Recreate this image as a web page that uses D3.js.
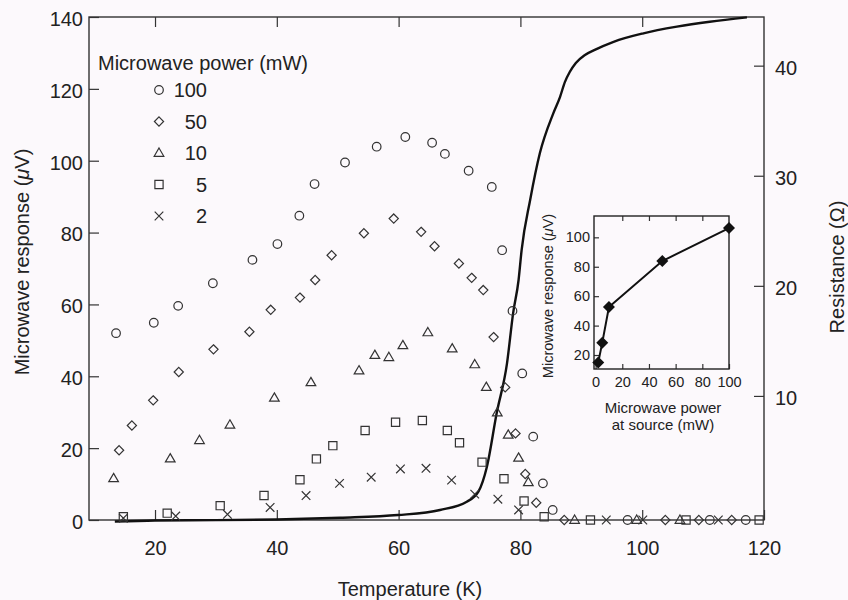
<!DOCTYPE html>
<html><head><meta charset="utf-8">
<script src="https://cdn.jsdelivr.net/npm/d3@7"></script>
<style>
body{margin:0;background:#fcf9fc}
svg{display:block}
text{font-family:"Liberation Sans",Arial,Helvetica,sans-serif;fill:#222}
</style>
</head><body><svg id="c" width="848" height="600"></svg>
<script>
// ---- Data ----
const powerLevels = ["100", "50", "10", "5", "2"];
const symbolKinds = ["circle", "diamond", "triangle", "square", "cross"];

const tempP100 = [13.6, 19.8, 23.8, 29.5, 36.0, 40.1, 43.7, 46.2, 51.2, 56.4, 61.1, 65.5, 67.6, 71.5, 75.3, 77.0, 78.7, 80.3, 82.1, 83.7, 85.3, 97.6, 111.1, 117.0];
const respP100 = [52.0, 54.9, 59.6, 65.9, 72.4, 76.8, 84.7, 93.5, 99.5, 103.9, 106.6, 105.0, 101.9, 97.2, 92.7, 75.1, 58.2, 40.8, 23.2, 10.2, 2.8, 0, 0, 0];

const tempP50 = [14.1, 16.2, 19.7, 23.9, 29.6, 35.5, 39.0, 43.8, 46.3, 49.0, 54.3, 59.2, 63.7, 65.9, 69.9, 72.0, 73.9, 75.6, 77.5, 79.2, 80.8, 82.6, 87.2, 103.8, 109.3, 114.7];
const respP50 = [19.4, 26.3, 33.3, 41.2, 47.5, 52.4, 58.5, 61.9, 66.8, 73.7, 79.8, 83.9, 80.2, 76.2, 71.4, 67.4, 64.0, 50.9, 36.9, 24.1, 12.8, 4.8, 0, 0, 0, 0];

const tempP10 = [13.2, 22.5, 27.3, 32.3, 39.6, 45.6, 53.5, 56.1, 58.4, 60.7, 64.8, 68.8, 72.5, 74.4, 76.2, 78.0, 79.7, 81.3, 88.9, 99.1, 106.2];
const respP10 = [11.6, 17.1, 22.2, 26.5, 34.0, 38.3, 41.6, 45.9, 45.3, 48.6, 52.2, 47.7, 43.3, 37.0, 29.9, 23.7, 17.3, 10.5, 0, 0, 0];

const tempP5 = [14.8, 22.0, 30.7, 37.9, 43.8, 46.5, 49.2, 54.5, 59.5, 63.9, 68.0, 70.0, 73.7, 77.3, 80.6, 83.9, 91.5, 107.2, 119.2];
const respP5 = [0.9, 1.9, 4.0, 6.8, 11.2, 17.0, 20.7, 24.9, 27.2, 27.7, 24.9, 21.5, 16.1, 11.5, 5.3, 0.9, 0, 0, 0];

const tempP2 = [14.8, 23.4, 31.9, 38.9, 44.8, 50.3, 55.5, 60.3, 64.5, 68.7, 72.5, 76.3, 79.7, 94.1, 100.1, 112.5];
const respP2 = [0.5, 1.1, 1.6, 3.5, 6.8, 10.2, 11.9, 14.2, 14.4, 11.1, 7.2, 5.8, 2.8, 0, 0, 0];

const resTemp = [13.4, 20, 30, 40, 50.4, 59.9, 66.8, 71.2, 73.1, 74.5, 76.1, 77.8, 78.8, 79.7, 80.2, 81.6, 83.2, 85.4, 86.5, 87.3, 88.1, 89.1, 90.6, 92.3, 95.3, 100.2, 105.7, 111.1, 117.2];
const resOhm = [-1.41, -1.32, -1.28, -1.22, -1.06, -0.82, -0.36, 0.39, 1.30, 3.57, 8.42, 12.96, 17.50, 20.53, 23.25, 27.80, 32.06, 35.67, 37.15, 38.5, 39.42, 40.24, 40.97, 41.46, 42.17, 42.94, 43.54, 43.99, 44.39];

const insetPower = [2, 5, 10, 50, 100];
const insetResp = [15.0, 28.4, 52.6, 83.9, 106.3];

const xTicks = [20, 40, 60, 80, 100, 120];
const yTicks = [0, 20, 40, 60, 80, 100, 120, 140];
const rTicks = [10, 20, 30, 40];
const insetXTicks = [0, 20, 40, 60, 80, 100];
const insetYTicks = [20, 40, 60, 80, 100];

// ---- Setup ----
const svg = d3.select("#c");
svg.append("rect").attr("width", 848).attr("height", 600).attr("fill", "#fcf9fc");

const L = 89, R = 764, T = 17, B = 520;
const x = d3.scaleLinear().domain([9.16, 120]).range([L, R]);
const y = d3.scaleLinear().domain([0, 140]).range([B, T]);
const yR = d3.scaleLinear().domain([-1.27, 44.42]).range([B, T]);

const axisColor = "#333";
function styleAxis(g, fs) {
  g.select(".domain").remove();
  g.selectAll(".tick line").attr("stroke", axisColor).attr("stroke-width", 1.2);
  g.selectAll(".tick text").attr("fill", "#222").style("font-size", fs + "px")
    .style("font-family", '"Liberation Sans",Arial,sans-serif');
}

// main axes
svg.append("g").attr("transform", `translate(0,${B})`)
  .call(d3.axisBottom(x).tickValues(xTicks).tickSize(-10).tickPadding(21).tickFormat(d3.format("d")))
  .call(g => styleAxis(g, 20));
svg.append("g").attr("transform", `translate(0,${T})`)
  .call(d3.axisTop(x).tickValues([20, 40, 60, 80, 100]).tickSize(-10).tickFormat(""))
  .call(g => styleAxis(g, 20));
svg.append("g").attr("transform", `translate(${L},0)`)
  .call(d3.axisLeft(y).tickValues(yTicks).tickSize(-10).tickPadding(6).tickFormat(d3.format("d")))
  .call(g => styleAxis(g, 20))
  .call(g => g.selectAll(".tick text").attr("dy", "0.42em"));
svg.append("g").attr("transform", `translate(${R},0)`)
  .call(d3.axisRight(yR).tickValues(rTicks).tickSize(-10).tickPadding(11).tickFormat(d3.format("d")))
  .call(g => styleAxis(g, 20))
  .call(g => g.selectAll(".tick text").attr("dy", "0.42em"));

svg.append("rect").attr("x", L).attr("y", T).attr("width", R - L).attr("height", B - T)
  .attr("fill", "none").attr("stroke", axisColor).attr("stroke-width", 1.4);

// axis titles
svg.append("text").attr("x", 410).attr("y", 596)
  .attr("text-anchor", "middle").style("font-size", "20px").text("Temperature (K)");

const lt = svg.append("text").attr("transform", "translate(29,262) rotate(-90)")
  .attr("text-anchor", "middle").style("font-size", "20px");
lt.append("tspan").text("Microwave response (");
lt.append("tspan").style("font-style", "italic").text("μ");
lt.append("tspan").text("V)");

svg.append("text").attr("transform", "translate(844,267) rotate(-90)")
  .attr("text-anchor", "middle").style("font-size", "20px").text("Resistance (Ω)");

// ---- marker shapes ----
function markerPath(kind, s) {
  const p = d3.path();
  if (kind === "circle") { p.moveTo(s, 0); p.arc(0, 0, s, 0, 2 * Math.PI); }
  else if (kind === "diamond") { p.moveTo(0, -s); p.lineTo(s, 0); p.lineTo(0, s); p.lineTo(-s, 0); p.closePath(); }
  else if (kind === "triangle") { const h = s * 1.8, w = s * 1.05; p.moveTo(0, -h * 0.6); p.lineTo(w, h * 0.4); p.lineTo(-w, h * 0.4); p.closePath(); }
  else if (kind === "square") { p.rect(-s, -s, 2 * s, 2 * s); }
  else if (kind === "cross") { p.moveTo(-s, -s); p.lineTo(s, s); p.moveTo(s, -s); p.lineTo(-s, s); }
  return p.toString();
}
const markerSize = { circle: 4.3, diamond: 4.6, triangle: 4.6, square: 4.1, cross: 4.3 };

const seriesList = [
  { kind: "circle", t: tempP100, v: respP100 },
  { kind: "diamond", t: tempP50, v: respP50 },
  { kind: "triangle", t: tempP10, v: respP10 },
  { kind: "square", t: tempP5, v: respP5 },
  { kind: "cross", t: tempP2, v: respP2 }
];

// resistance curve
const resLine = d3.line().x(d => x(d[0])).y(d => yR(d[1])).curve(d3.curveMonotoneX);
svg.append("path").datum(resTemp.map((t, i) => [t, resOhm[i]]))
  .attr("d", resLine).attr("fill", "none").attr("stroke", "#111").attr("stroke-width", 2.4);

// markers
seriesList.forEach(s => {
  svg.append("g").selectAll("path").data(s.t.map((t, i) => [t, s.v[i]])).join("path")
    .attr("transform", d => `translate(${x(d[0])},${y(d[1])})`)
    .attr("d", markerPath(s.kind, markerSize[s.kind]))
    .attr("fill", "none").attr("stroke", "#333").attr("stroke-width", 1.2);
});

// legend
svg.append("text").attr("x", 98).attr("y", 70).style("font-size", "20px").text("Microwave power (mW)");
powerLevels.forEach((p, i) => {
  const cy = 90 + i * 31.5;
  const k = symbolKinds[i];
  svg.append("path").attr("transform", `translate(159,${cy})`)
    .attr("d", markerPath(k, markerSize[k])).attr("fill", "none").attr("stroke", "#333").attr("stroke-width", 1.2);
  svg.append("text").attr("x", 207).attr("y", cy).attr("dy", "0.36em").attr("text-anchor", "end")
    .style("font-size", "20px").text(p);
});

// ---- inset ----
const iL = 594, iR = 729, iT = 216, iB = 369;
const ix = d3.scaleLinear().domain([-1.2, 100]).range([iL, iR]);
const iy = d3.scaleLinear().domain([10.5, 114.5]).range([iB, iT]);

svg.append("rect").attr("x", iL).attr("y", iT).attr("width", iR - iL).attr("height", iB - iT)
  .attr("fill", "#fcf9fc");
svg.append("g").attr("transform", `translate(0,${iB})`)
  .call(d3.axisBottom(ix).tickValues(insetXTicks).tickSize(-5).tickPadding(7.5).tickFormat(d3.format("d")))
  .call(g => styleAxis(g, 14.5));
svg.append("g").attr("transform", `translate(0,${iT})`)
  .call(d3.axisTop(ix).tickValues([20, 40, 60, 80]).tickSize(-5).tickFormat(""))
  .call(g => styleAxis(g, 14.5));
svg.append("g").attr("transform", `translate(${iL},0)`)
  .call(d3.axisLeft(iy).tickValues(insetYTicks).tickSize(-5).tickPadding(4).tickFormat(d3.format("d")))
  .call(g => styleAxis(g, 14.5));
svg.append("rect").attr("x", iL).attr("y", iT).attr("width", iR - iL).attr("height", iB - iT)
  .attr("fill", "none").attr("stroke", "#222").attr("stroke-width", 1.4);

const insetLine = d3.line().x(d => ix(d[0])).y(d => iy(d[1]));
const insetData = insetPower.map((p, i) => [p, insetResp[i]]);
svg.append("path").datum(insetData).attr("d", insetLine)
  .attr("fill", "none").attr("stroke", "#111").attr("stroke-width", 2);
svg.append("g").selectAll("path").data(insetData).join("path")
  .attr("transform", d => `translate(${ix(d[0])},${iy(d[1])})`)
  .attr("d", markerPath("diamond", 6)).attr("fill", "#111");

const it = svg.append("text").attr("transform", "translate(553,296) rotate(-90)")
  .attr("text-anchor", "middle").style("font-size", "14.5px");
it.append("tspan").text("Microwave response (");
it.append("tspan").style("font-style", "italic").text("μ");
it.append("tspan").text("V)");

svg.append("text").attr("x", 663).attr("y", 413).attr("text-anchor", "middle")
  .style("font-size", "15px").text("Microwave power");
svg.append("text").attr("x", 663).attr("y", 430).attr("text-anchor", "middle")
  .style("font-size", "15px").text("at source (mW)");
</script></body></html>
